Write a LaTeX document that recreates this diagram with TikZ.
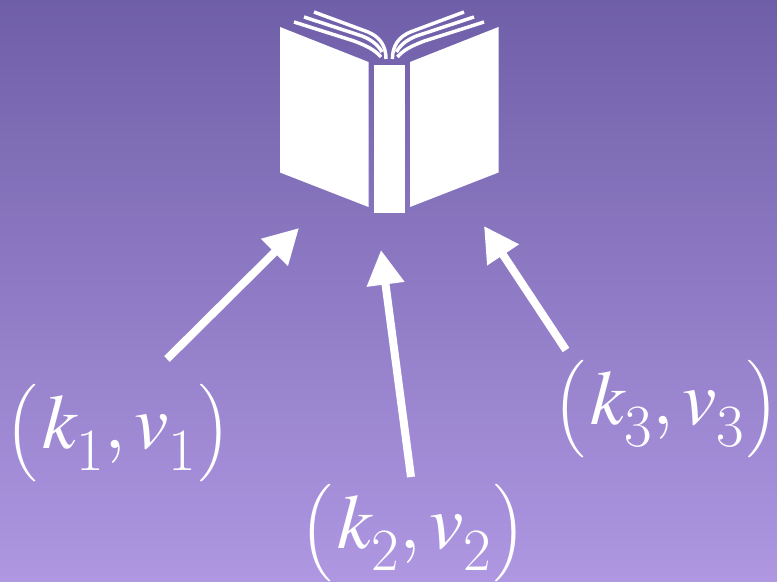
\documentclass[tikz,border=0pt]{standalone}
\usepackage{mathptmx}
\usepackage{tikz}
\usetikzlibrary{arrows.meta, positioning}
\definecolor{bgtop}{HTML}{6F5FA8}
\definecolor{bgbottom}{HTML}{AF97E2}
\newcommand{\pairsub}[1]{\raisebox{-16.5pt}{\fontsize{45}{48}\selectfont #1}}
\newcommand{\pairdelim}[1]{\raisebox{1.5pt}{\scalebox{.7}{$\left#1\rule[-27pt]{0pt}{56pt}\right.$}}}
\newcommand{\pairtext}[1]{\pairdelim{(}\kern2.5pt$k$\kern-1pt\pairsub{#1}$,$\kern6.5pt$v$\pairsub{#1}\kern2pt\pairdelim{)}}
\tikzset{
  pairlabel/.style={text=white, inner sep=0pt, font=\fontsize{58}{62}\selectfont},
  keyarrow/.style={white, line width=6pt, -{Triangle[length=26pt, width=27pt]}},
  pagecover/.style={fill=white, draw=none},
  pageline/.style={white, line width=2.6pt, line cap=butt}
}
\begin{document}
\begin{tikzpicture}[x=0.75pt, y=-0.75pt]
  \useasboundingbox (0,0) rectangle (777,581);
  \shade[top color=bgtop, bottom color=bgbottom] (0,0) rectangle (777,581);
  % book
  \fill[pagecover] (280,27) -- (368.5,62) -- (368.5,207) -- (280,172.5) -- cycle;
  \fill[pagecover] (498.5,27) -- (410,62) -- (410,207) -- (498.5,172.5) -- cycle;
  \fill[pagecover] (374,65.5) rectangle (404.5,213);
  \draw[pageline] (386,59) .. controls (386,46) and (380,37) .. (368,32) -- (314,12);
  \draw[pageline] (382,52) .. controls (378,45) and (372,40) .. (362,36) -- (304,17);
  \draw[pageline] (381,57) .. controls (375,50) and (367,46) .. (354,41) -- (294,22);
  \draw[pageline] (392.4,59) .. controls (392.4,46) and (398.4,37) .. (410.4,32) -- (464,12);
  \draw[pageline] (396.4,52) .. controls (400.4,45) and (406.4,40) .. (416.4,36) -- (474,17);
  \draw[pageline] (397.4,57) .. controls (403.4,50) and (411.4,46) .. (424.4,41) -- (484,22);
  % labels
  \node[pairlabel] (pair1) at (119,433) {\pairtext{1}};
  \node[pairlabel] (pair2) at (414,533) {\pairtext{2}};
  \node[pairlabel] (pair3) at (667,409) {\pairtext{3}};
  \coordinate (start1) at (167,359);
  \coordinate (start2) at (411,477);
  \coordinate (start3) at (566,350);
  \coordinate (tip1) at (299,228);
  \coordinate (tip2) at (381,250);
  \coordinate (tip3) at (484,226);
  \draw[keyarrow] (start1) -- (tip1);
  \draw[keyarrow] (start2) -- (tip2);
  \draw[keyarrow] (start3) -- (tip3);
\end{tikzpicture}
\end{document}
